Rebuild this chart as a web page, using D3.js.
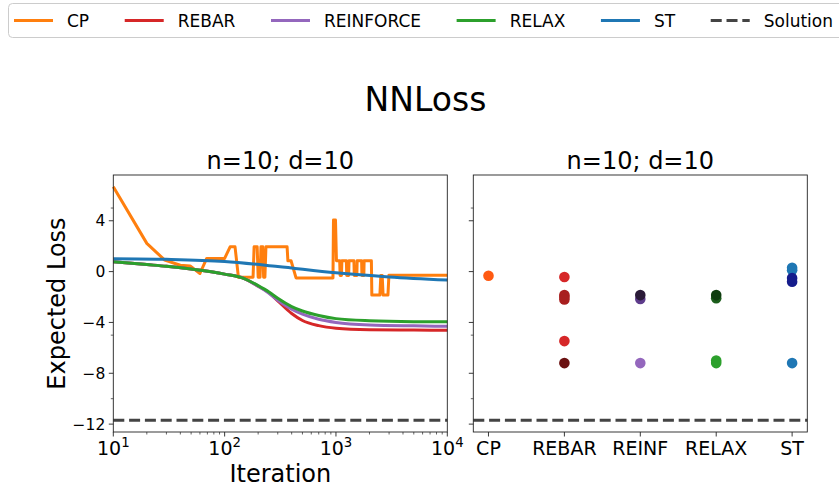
<!DOCTYPE html>
<html><head><meta charset="utf-8">
<script src="https://cdn.jsdelivr.net/npm/d3@7/dist/d3.min.js"></script>
<style>body{margin:0;background:#fff;} text{font-family:"DejaVu Sans",sans-serif;fill:#000;}</style>
</head><body><svg id="c" width="839" height="487"></svg>
<script>
// ---------- data ----------
const legendLabels = ["CP", "REBAR", "REINFORCE", "RELAX", "ST", "Solution"];
const seriesColors = ["#ff7f0e", "#d62728", "#9467bd", "#2ca02c", "#1f77b4", "#444444"];

const iterGrid = [10, 20, 30, 50, 100, 150, 200, 250, 300, 400, 500, 700, 1000, 2000, 5000, 10000];
const rebarLoss =     [0.77, 0.55, 0.42, 0.2, -0.2, -0.55, -1.15, -1.65, -2.3, -3.3, -3.85, -4.25, -4.45, -4.57, -4.6, -4.62];
const reinforceLoss = [0.77, 0.55, 0.42, 0.2, -0.2, -0.55, -1.15, -1.7, -2.25, -2.95, -3.35, -3.75, -4.0, -4.2, -4.27, -4.3];
const relaxLoss =     [0.77, 0.55, 0.42, 0.2, -0.2, -0.55, -1.1, -1.6, -2.1, -2.75, -3.1, -3.45, -3.7, -3.87, -3.94, -3.95];

const stIter = [10, 30, 100, 300, 1000, 3000, 10000];
const stLoss = [1.02, 0.97, 0.8, 0.4, -0.1, -0.42, -0.67];

const cpIter = [10, 20, 29, 40, 49, 60, 69, 100, 112, 124, 133, 180, 184, 196, 200, 208, 212, 220, 224, 230, 235,
  364, 370, 395, 438, 940, 950, 990, 1010, 1080, 1090, 1120, 1130, 1240, 1250, 1300, 1310, 1450, 1460, 1540, 1550,
  1700, 1710, 1780, 1790, 2080, 2100, 2480, 2530, 2600, 2650, 2930, 2990, 10000];
const cpLoss = [6.68, 2.22, 0.9, 0.5, 0.45, -0.15, 1.04, 1.04, 1.95, 1.95, -0.45, -0.45, 1.95, 1.95, -0.45, -0.45, 1.95, 1.95, -0.45, -0.45, 1.95,
  1.95, 0.85, 0.85, -0.5, -0.5, 4.05, 4.05, 0.85, 0.85, -0.3, -0.3, 0.85, 0.85, -0.3, -0.3, 0.85, 0.85, -0.3, -0.3, 0.85,
  0.85, -0.3, -0.3, 0.85, 0.85, -1.85, -1.85, -0.3, -0.3, -1.85, -1.85, -0.28, -0.28];

const solutionLoss = -11.7;

const yTicks = [4, 0, -4, -8, -12];
const yMinorTicks = [5, -5, -10];
const xTickExps = [1, 2, 3, 4];

const scatterCats = ["CP", "REBAR", "REINF", "RELAX", "ST"];
const scatterMethod = ["CP", "REBAR", "REBAR", "REBAR", "REBAR", "REBAR", "REBAR",
  "REINF", "REINF", "REINF", "RELAX", "RELAX", "RELAX", "RELAX", "ST", "ST", "ST", "ST", "ST"];
const scatterLoss = [-0.33, -0.42, -1.85, -2.0, -2.2, -5.47, -7.2,
  -2.15, -1.85, -7.2, -2.1, -1.85, -7.0, -7.2, 0.3, 0.1, -0.5, -0.8, -7.2];
const scatterColor = ["#ff5a12", "#d62728", "#a81f1f", "#a81f1f", "#a81f1f", "#d62728", "#6b1111",
  "#5e3c8c", "#2a1a38", "#9467bd", "#1c5e1c", "#0f3d0f", "#2ca02c", "#2ca02c", "#1f77b4", "#1f77b4", "#151c8c", "#151c8c", "#1f77b4"];

// ---------- layout ----------
const svg = d3.select("#c");
const yTop = 175, yBot = 432;
const L = {x0: 113.3, x1: 447.3};
const R = {x0: 473.3, x1: 807.3};

const y = d3.scaleLinear().domain([-12.62, 7.6]).range([yBot, yTop]);
const xL = d3.scaleLog().domain([10, 10000]).range([L.x0, L.x1]);
const xR = d3.scalePoint().domain(scatterCats).range([R.x0, R.x1]).padding(0.2);

// ---------- legend ----------
const lg = svg.append("g");
lg.append("rect").attr("x", 8.5).attr("y", 3.5).attr("width", 845).attr("height", 34).attr("rx", 4)
  .attr("fill", "#fff").attr("stroke", "#cccccc").attr("stroke-width", 1);
let lx = 14;
legendLabels.forEach((lab, i) => {
  lg.append("line").attr("x1", lx).attr("x2", lx + 39).attr("y1", 20.5).attr("y2", 20.5)
    .attr("stroke", seriesColors[i]).attr("stroke-width", 3)
    .attr("stroke-dasharray", lab === "Solution" ? "11,4.8" : null);
  const t = lg.append("text").attr("x", lx + 53).attr("y", 27).attr("font-size", 17).text(lab);
  lx = lx + 53 + t.node().getComputedTextLength() + 35.6;
});

// ---------- titles ----------
svg.append("text").attr("x", 425.5).attr("y", 111).attr("text-anchor", "middle").attr("font-size", 33).text("NNLoss");
svg.append("text").attr("x", (L.x0 + L.x1) / 2).attr("y", 169).attr("text-anchor", "middle").attr("font-size", 24).text("n=10; d=10");
svg.append("text").attr("x", (R.x0 + R.x1) / 2).attr("y", 169).attr("text-anchor", "middle").attr("font-size", 24).text("n=10; d=10");
svg.append("text").attr("transform", `translate(65,${(yTop + yBot) / 2}) rotate(-90)`).attr("text-anchor", "middle")
  .attr("font-size", 24).text("Expected Loss");
svg.append("text").attr("x", (L.x0 + L.x1) / 2).attr("y", 482).attr("text-anchor", "middle").attr("font-size", 24).text("Iteration");

// ---------- left plot ----------
const gl = svg.append("g");
const line = d3.line().x(d => xL(d[0])).y(d => y(d[1]));
const smooth = d3.line().x(d => xL(d[0])).y(d => y(d[1])).curve(d3.curveMonotoneX);

gl.append("path").attr("d", line(cpIter.map((v, i) => [v, cpLoss[i]])))
  .attr("fill", "none").attr("stroke", seriesColors[0]).attr("stroke-width", 3).attr("stroke-linejoin", "round");
[rebarLoss, reinforceLoss, relaxLoss].forEach((arr, k) => {
  gl.append("path").attr("d", smooth(iterGrid.map((v, i) => [v, arr[i]])))
    .attr("fill", "none").attr("stroke", seriesColors[k + 1]).attr("stroke-width", 3);
});
gl.append("path").attr("d", smooth(stIter.map((v, i) => [v, stLoss[i]])))
  .attr("fill", "none").attr("stroke", seriesColors[4]).attr("stroke-width", 3);
gl.append("line").attr("x1", L.x0).attr("x2", L.x1).attr("y1", y(solutionLoss)).attr("y2", y(solutionLoss))
  .attr("stroke", seriesColors[5]).attr("stroke-width", 3).attr("stroke-dasharray", "11,4.8");

// ---------- right plot ----------
const gr = svg.append("g");
scatterLoss.forEach((v, i) => {
  gr.append("circle").attr("cx", xR(scatterMethod[i])).attr("cy", y(v)).attr("r", 5.3).attr("fill", scatterColor[i]);
});
gr.append("line").attr("x1", R.x0).attr("x2", R.x1).attr("y1", y(solutionLoss)).attr("y2", y(solutionLoss))
  .attr("stroke", seriesColors[5]).attr("stroke-width", 3).attr("stroke-dasharray", "11,4.8");

// ---------- axes ----------
function frame(P) {
  svg.append("rect").attr("x", P.x0).attr("y", yTop).attr("width", P.x1 - P.x0).attr("height", yBot - yTop)
    .attr("fill", "none").attr("stroke", "#222").attr("stroke-width", 0.9);
  yTicks.forEach(t => svg.append("line").attr("x1", P.x0 - 4.5).attr("x2", P.x0).attr("y1", y(t)).attr("y2", y(t))
    .attr("stroke", "#222").attr("stroke-width", 0.9));
  yMinorTicks.forEach(t => svg.append("line").attr("x1", P.x0 - 2.5).attr("x2", P.x0).attr("y1", y(t)).attr("y2", y(t))
    .attr("stroke", "#222").attr("stroke-width", 0.7));
}
frame(L); frame(R);

yTicks.forEach(t => {
  svg.append("text").attr("x", L.x0 - 8).attr("y", y(t)).attr("dy", "0.36em").attr("text-anchor", "end")
    .attr("font-size", 15.5).text(t < 0 ? "\u2212" + Math.abs(t) : String(t));
});

// log x ticks
xTickExps.forEach(e => {
  const v = Math.pow(10, e);
  svg.append("line").attr("x1", xL(v)).attr("x2", xL(v)).attr("y1", yBot).attr("y2", yBot + 4.5)
    .attr("stroke", "#222").attr("stroke-width", 0.9);
  const t = svg.append("text").attr("x", xL(v)).attr("y", 455).attr("text-anchor", "middle").attr("font-size", 19);
  t.append("tspan").text("10");
  t.append("tspan").attr("font-size", 13.3).attr("dy", -8.3).text(String(e));
  if (e < 4) {
    for (let m = 2; m <= 9; m++) {
      const mv = m * v;
      svg.append("line").attr("x1", xL(mv)).attr("x2", xL(mv)).attr("y1", yBot).attr("y2", yBot + 2.5)
        .attr("stroke", "#222").attr("stroke-width", 0.7);
    }
  }
});

// category x ticks
scatterCats.forEach(c => {
  svg.append("line").attr("x1", xR(c)).attr("x2", xR(c)).attr("y1", yBot).attr("y2", yBot + 4.5)
    .attr("stroke", "#222").attr("stroke-width", 0.9);
  svg.append("text").attr("x", xR(c)).attr("y", 455).attr("text-anchor", "middle").attr("font-size", 19).text(c);
});
</script></body></html>
